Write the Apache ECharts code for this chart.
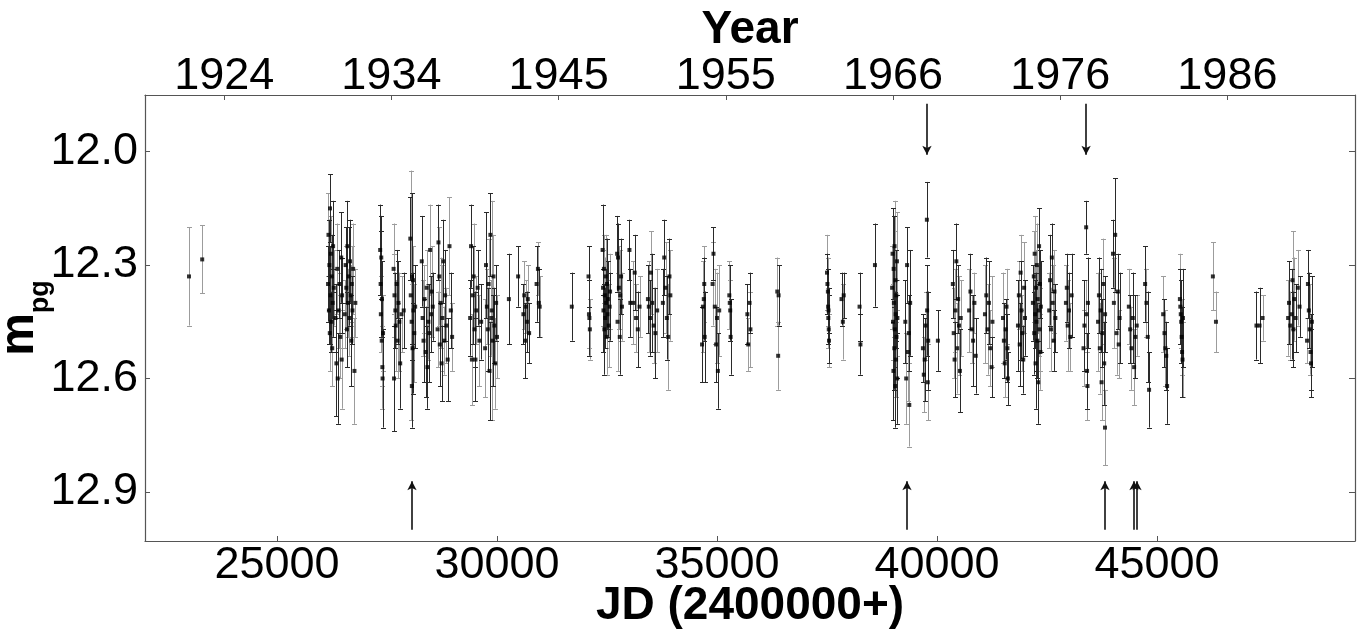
<!DOCTYPE html>
<html>
<head>
<meta charset="utf-8">
<script src="https://cdn.jsdelivr.net/npm/echarts@6/dist/echarts.min.js"></script>
<style>
html,body{margin:0;padding:0;background:#fff;}
#chart{width:1359px;height:635px;}
</style>
</head>
<body>
<div id="chart"></div>
<script>
// ---- Data (JD - 2400000, m_pg, error, tone 0=dark bar / 1=light bar) ----
const obs = [
[23000,12.33,0.13,1],[23300,12.285,0.09,1],
// 1930 season
[26160,12.35,0.10,0],[26170,12.22,0.11,1],[26180,12.42,0.09,0],[26190,12.30,0.12,0],[26200,12.48,0.10,1],
[26205,12.15,0.09,0],[26215,12.38,0.13,0],[26225,12.27,0.10,1],[26235,12.45,0.08,0],[26245,12.33,0.11,0],
[26255,12.52,0.10,1],[26265,12.40,0.09,0],[26275,12.25,0.12,0],[26290,12.36,0.10,1],[26330,12.44,0.09,0],
[26350,12.56,0.14,0],[26370,12.31,0.12,1],[26380,12.60,0.12,0],[26400,12.42,0.10,1],[26420,12.35,0.09,0],
[26440,12.49,0.11,1],[26460,12.28,0.12,0],[26470,12.55,0.13,1],[26480,12.38,0.10,0],[26540,12.43,0.09,1],
[26560,12.30,0.10,0],[26575,12.36,0.11,1],[26590,12.47,0.10,0],[26600,12.25,0.12,0],[26615,12.40,0.09,1],
[26630,12.33,0.13,0],[26645,12.44,0.10,1],[26660,12.29,0.11,0],[26675,12.38,0.08,1],[26690,12.50,0.12,0],
[26700,12.35,0.10,1],[26715,12.42,0.09,0],[26730,12.31,0.12,1],[26760,12.58,0.14,1],[26780,12.40,0.09,1],
// 1933-1935
[27345,12.26,0.12,0],[27355,12.35,0.14,0],[27360,12.43,0.10,1],[27370,12.28,0.11,0],[27380,12.50,0.12,1],
[27385,12.39,0.10,0],[27395,12.57,0.11,1],[27400,12.60,0.13,0],[27410,12.48,0.10,1],
[27650,12.31,0.12,1],[27660,12.60,0.14,0],[27670,12.38,0.11,1],[27690,12.42,0.10,0],[27700,12.46,0.12,1],
[27720,12.35,0.09,0],[27740,12.50,0.10,1],[27760,12.40,0.11,0],[27780,12.45,0.13,1],[27800,12.56,0.12,0],
[27830,12.43,0.10,1],[27880,12.42,0.10,0],
[28030,12.23,0.11,0],[28040,12.38,0.33,1],[28065,12.62,0.11,0],[28060,12.45,0.10,1],[28080,12.52,0.12,0],
[28090,12.34,0.09,1],[28100,12.42,0.10,0],[28120,12.48,0.13,1],[28140,12.41,0.11,0],[28070,12.33,0.22,0],
[28290,12.29,0.12,0],[28310,12.44,0.10,1],[28330,12.50,0.11,0],[28350,12.39,0.09,1],[28380,12.53,0.12,0],
[28400,12.36,0.10,1],[28420,12.57,0.11,0],[28440,12.45,0.10,1],[28460,12.48,0.13,0],[28480,12.26,0.12,1],
[28500,12.43,0.10,0],[28520,12.37,0.12,1],[28540,12.41,0.09,0],
[28650,12.47,0.10,1],[28670,12.24,0.10,0],[28690,12.33,0.13,1],[28700,12.51,0.11,0],[28720,12.40,0.12,1],
[28740,12.56,0.10,0],[28760,12.44,0.14,1],[28780,12.29,0.11,0],[28800,12.50,0.09,1],[28820,12.38,0.12,0],
[28850,12.46,0.10,1],[28880,12.55,0.11,0],[28920,12.25,0.13,1],[28950,12.42,0.10,0],[28980,12.49,0.09,1],
// 1939-1940
[29390,12.44,0.10,0],[29410,12.25,0.11,0],[29430,12.55,0.12,1],[29450,12.38,0.13,0],[29470,12.33,0.14,1],
[29490,12.47,0.10,0],[29510,12.55,0.11,0],[29530,12.42,0.09,1],[29560,12.36,0.10,0],[29600,12.50,0.12,1],
[29640,12.45,0.10,0],
[29730,12.52,0.13,1],[29750,12.30,0.14,0],[29770,12.41,0.10,1],[29790,12.47,0.11,0],[29810,12.35,0.12,1],
[29830,12.58,0.13,0],[29850,12.22,0.11,0],[29870,12.44,0.10,1],[29880,12.42,0.29,1],[29900,12.50,0.12,0],
[29920,12.33,0.11,1],[29940,12.46,0.10,0],[29960,12.56,0.12,1],[29980,12.40,0.10,0],[30000,12.49,0.11,1],
[30270,12.39,0.12,0],[30480,12.33,0.08,0],
[30600,12.43,0.08,0],[30620,12.38,0.09,1],[30640,12.50,0.10,0],[30660,12.41,0.07,1],[30680,12.45,0.08,0],
[30700,12.39,0.09,1],[30730,12.48,0.08,0],
[30900,12.35,0.10,0],[30930,12.31,0.07,1],[30950,12.40,0.09,0],[30970,12.41,0.08,1],
// 1945-1950
[31700,12.41,0.09,0],
[32080,12.33,0.08,0],[32090,12.43,0.09,1],[32100,12.44,0.10,0],[32110,12.47,0.08,1],
[32400,12.26,0.12,0],[32410,12.36,0.10,1],[32420,12.42,0.11,0],[32430,12.31,0.09,1],[32440,12.47,0.12,0],
[32450,12.38,0.10,1],[32460,12.44,0.08,0],[32470,12.33,0.11,1],[32480,12.40,0.09,0],[32490,12.49,0.10,1],
[32500,12.35,0.12,0],[32510,12.43,0.09,1],[32520,12.39,0.10,0],[32540,12.46,0.11,1],[32560,12.41,0.09,0],
[32570,12.37,0.10,1],
[32730,12.27,0.10,0],[32740,12.45,0.13,1],[32750,12.28,0.09,0],[32770,12.36,0.11,1],[32790,12.49,0.10,0],
[32800,12.38,0.12,1],[32820,12.33,0.10,0],[32840,12.41,0.09,1],
[33010,12.26,0.08,0],[33030,12.40,0.09,0],
[33100,12.40,0.11,1],[33130,12.32,0.10,0],[33160,12.44,0.09,1],[33200,12.47,0.10,0],[33240,12.41,0.08,1],
[33430,12.39,0.09,0],[33450,12.41,0.12,1],[33480,12.44,0.10,0],[33500,12.32,0.11,1],[33530,12.40,0.13,0],
[33560,12.46,0.10,1],[33600,12.48,0.12,0],[33640,12.42,0.11,1],
[33770,12.40,0.09,0],[33800,12.28,0.10,0],[33830,12.36,0.12,1],[33860,12.44,0.11,0],[33890,12.49,0.14,1],
[33920,12.33,0.10,0],[33940,12.38,0.12,1],
[34660,12.51,0.10,0],[34680,12.41,0.12,1],[34700,12.39,0.11,0],[34710,12.35,0.10,1],[34720,12.49,0.12,0],
[34900,12.35,0.11,1],[34920,12.27,0.07,0],[34950,12.41,0.10,1],[34980,12.51,0.10,0],[35000,12.44,0.12,1],
[35020,12.58,0.10,0],[35050,12.42,0.12,1],
[35280,12.38,0.09,1],[35290,12.40,0.10,0],[35300,12.42,0.08,1],[35310,12.49,0.10,0],
[35690,12.43,0.08,0],[35710,12.51,0.07,1],[35740,12.40,0.08,0],[35760,12.47,0.10,1],
[36370,12.37,0.09,1],[36390,12.54,0.09,1],[36400,12.38,0.08,0],
// 1961-1966
[37500,12.32,0.10,1],[37510,12.35,0.08,0],[37520,12.37,0.09,1],[37525,12.41,0.10,0],[37530,12.44,0.08,1],
[37540,12.47,0.09,0],[37545,12.50,0.07,1],[37535,12.42,0.06,0],
[37830,12.39,0.07,0],[37860,12.45,0.10,1],[37880,12.38,0.06,0],
[38240,12.41,0.09,0],[38260,12.51,0.08,0],
[38590,12.30,0.11,0],
[38980,12.36,0.11,1],[38990,12.27,0.12,0],[39000,12.45,0.10,1],[39010,12.58,0.13,0],[39015,12.31,0.14,0],
[39020,12.40,0.09,1],[39030,12.52,0.11,0],[39035,12.25,0.12,1],[39040,12.47,0.10,0],[39050,12.62,0.11,0],
[39055,12.34,0.13,1],[39060,12.43,0.09,0],[39070,12.55,0.10,1],[39075,12.38,0.12,0],[39080,12.49,0.11,0],
[39090,12.29,0.13,1],[39095,12.60,0.12,0],[39100,12.44,0.10,1],
[39280,12.45,0.11,0],[39300,12.60,0.12,1],[39320,12.30,0.10,0],[39340,12.53,0.13,1],[39360,12.48,0.10,0],
[39370,12.67,0.11,1],[39390,12.40,0.14,0],
[39680,12.52,0.09,0],[39700,12.59,0.10,1],[39720,12.55,0.11,0],[39740,12.46,0.09,1],[39770,12.18,0.10,0],
[39775,12.42,0.12,0],[39790,12.61,0.10,1],[39800,12.50,0.13,0],
[40020,12.50,0.08,0],
[40360,12.35,0.09,0],[40380,12.48,0.12,1],[40400,12.55,0.10,0],[40420,12.42,0.11,1],[40440,12.29,0.10,0],
[40460,12.52,0.12,1],[40480,12.39,0.09,0],[40500,12.46,0.13,1],[40520,12.58,0.11,0],[40540,12.44,0.10,1],
[40730,12.42,0.11,1],[40760,12.37,0.10,0],[40790,12.47,0.09,1],[40820,12.50,0.12,0],[40850,12.40,0.08,1],
[40880,12.54,0.10,0],
[41090,12.43,0.13,1],[41120,12.38,0.10,0],[41150,12.47,0.12,1],[41180,12.40,0.11,0],[41210,12.52,0.10,1],
[41240,12.57,0.08,0],[41260,12.45,0.12,1],
// 1972-1977
[41500,12.44,0.12,1],[41520,12.50,0.10,0],[41540,12.56,0.09,1],[41560,12.47,0.08,0],[41580,12.41,0.10,1],
[41600,12.52,0.09,0],[41610,12.60,0.07,0],
[41840,12.46,0.12,0],[41860,12.38,0.09,1],[41880,12.51,0.11,0],[41900,12.32,0.10,1],[41920,12.42,0.13,0],
[41940,12.48,0.10,1],[41960,12.55,0.09,0],[41980,12.36,0.12,1],[42000,12.44,0.10,0],
[42180,12.40,0.10,0],[42200,12.33,0.12,1],[42210,12.48,0.11,0],[42220,12.27,0.10,1],[42230,12.43,0.09,0],
[42240,12.56,0.12,0],[42250,12.36,0.10,1],[42260,12.45,0.13,0],[42270,12.30,0.11,1],[42280,12.50,0.10,0],
[42290,12.39,0.09,1],[42300,12.61,0.11,0],[42310,12.42,0.12,1],[42320,12.25,0.10,0],[42330,12.47,0.11,1],
[42340,12.35,0.09,0],[42350,12.53,0.10,1],[42360,12.41,0.12,0],
[42550,12.42,0.10,1],[42570,12.34,0.12,0],[42590,12.47,0.11,1],[42610,12.28,0.09,0],[42630,12.40,0.10,1],
[42650,12.50,0.08,0],[42670,12.37,0.11,1],[42690,12.44,0.09,0],
[42930,12.40,0.10,1],[42950,12.36,0.09,0],[42970,12.46,0.12,1],[43000,12.42,0.10,0],[43030,12.49,0.09,1],
[43060,12.38,0.11,0],
[43330,12.52,0.10,1],[43350,12.46,0.12,0],[43390,12.20,0.07,0],[43395,12.43,0.09,1],[43410,12.58,0.10,0],
[43420,12.62,0.09,1],[43430,12.40,0.12,0],
[43660,12.45,0.13,1],[43680,12.38,0.10,0],[43700,12.52,0.12,1],[43720,12.42,0.11,0],[43740,12.61,0.10,1],
[43760,12.48,0.09,0],[43780,12.35,0.12,1],[43818,12.73,0.10,1],[43800,12.56,0.11,0],[43820,12.43,0.10,0],
[44000,12.27,0.09,0],[44020,12.40,0.12,1],[44050,12.22,0.15,0],[44080,12.48,0.11,1],[44110,12.37,0.10,0],
[44130,12.51,0.09,1],[44150,12.44,0.12,0],
[44360,12.41,0.10,1],[44390,12.47,0.09,0],[44420,12.52,0.11,1],[44450,12.44,0.12,0],[44480,12.57,0.10,1],
[44510,12.49,0.11,0],[44540,12.46,0.08,1],
[44730,12.35,0.10,0],[44760,12.40,0.09,1],[44790,12.49,0.12,0],[44820,12.63,0.10,0],
[45140,12.43,0.10,1],[45170,12.48,0.09,0],[45190,12.52,0.10,1],[45210,12.54,0.09,0],[45230,12.62,0.10,0],
// 1983-1991
[45520,12.39,0.12,1],[45530,12.41,0.10,0],[45540,12.43,0.09,1],[45550,12.45,0.11,0],[45560,12.49,0.10,1],
[45570,12.53,0.12,0],[45580,12.55,0.10,1],[45590,12.44,0.13,0],
[46270,12.33,0.09,1],[46340,12.45,0.08,1],
[47260,12.46,0.09,0],[47330,12.46,0.10,0],[47400,12.44,0.06,1],
[47980,12.44,0.10,1],[48000,12.40,0.11,0],[48030,12.46,0.09,1],[48060,12.43,0.12,0],[48080,12.34,0.13,1],
[48100,12.47,0.10,0],[48120,12.39,0.11,1],[48150,12.44,0.09,0],[48200,12.36,0.10,1],[48240,12.41,0.08,0],
[48410,12.50,0.06,1],[48430,12.35,0.09,0],[48450,12.42,0.10,0],[48470,12.47,0.12,1],[48490,12.53,0.10,0],
[48500,12.56,0.09,0],[48520,12.45,0.12,0]
];
const jdTicks = [25000, 30000, 35000, 40000, 45000];
const magTicks = [12.0, 12.3, 12.6, 12.9];
const yearTickJD = [23800, 27600, 31400, 35200, 39000, 42800, 46600];
const yearLabels = ['1924', '1934', '1945', '1955', '1966', '1976', '1986'];
const upArrowJD = [28068, 39318, 43818, 44477, 44545];
const downArrowJD = [39772, 43388];
const upArrowMag = [13.0, 12.872];
const downArrowMag = [11.873, 12.008];

// ---- Chart ----
const FONT = '"Liberation Sans", Arial, Helvetica, sans-serif';
const AXIS_COLOR = '#555';
const chart = echarts.init(document.getElementById('chart'), null, {renderer: 'canvas'});

function barRenderer(color) {
  return function (params, api) {
    const x = api.value(0), m = api.value(1), e = api.value(2);
    const t = api.coord([x, m - e]);
    const b = api.coord([x, m + e]);
    const px = Math.round(t[0]) + 0.5;
    const cw = 2.5;
    const st = {stroke: color, lineWidth: 1};
    return {
      type: 'group',
      children: [
        {type: 'line', shape: {x1: px, y1: t[1], x2: px, y2: b[1]}, style: st},
        {type: 'line', shape: {x1: px - cw, y1: Math.round(t[1]) + 0.5, x2: px + cw, y2: Math.round(t[1]) + 0.5}, style: st},
        {type: 'line', shape: {x1: px - cw, y1: Math.round(b[1]) + 0.5, x2: px + cw, y2: Math.round(b[1]) + 0.5}, style: st}
      ]
    };
  };
}

const lightObs = obs.filter(o => o[3] === 1).map(o => [o[0], o[1], o[2]]);
const darkObs = obs.filter(o => o[3] === 0).map(o => [o[0], o[1], o[2]]);

const arrowLines = [];
upArrowJD.forEach(j => arrowLines.push([{coord: [j, upArrowMag[0]]}, {coord: [j, upArrowMag[1]]}]));
downArrowJD.forEach(j => arrowLines.push([{coord: [j, downArrowMag[0]]}, {coord: [j, downArrowMag[1]]}]));

const labelStyle = {color: '#000', fontFamily: FONT, fontSize: 45};
const nameStyle = {color: '#000', fontFamily: FONT, fontSize: 46, fontWeight: 'bold'};

const option = {
  animation: false,
  backgroundColor: '#fff',
  grid: {left: 145, right: 4, top: 95, bottom: 94, containLabel: false, outerBoundsMode: 'none'},
  xAxis: [
    {
      type: 'value', position: 'bottom', min: 22000, max: 49500,
      axisLine: {show: true, onZero: false, lineStyle: {color: AXIS_COLOR, width: 1.2}},
      axisTick: {show: true, inside: true, length: 5, customValues: jdTicks, lineStyle: {color: AXIS_COLOR}},
      axisLabel: {show: true, customValues: jdTicks, margin: 2, ...labelStyle, formatter: v => String(v)},
      splitLine: {show: false},
      name: 'JD (2400000+)', nameLocation: 'middle', nameGap: 42, nameMoveOverlap: false, nameTextStyle: nameStyle
    },
    {
      type: 'value', position: 'top', min: 22000, max: 49500,
      axisLine: {show: true, onZero: false, lineStyle: {color: AXIS_COLOR, width: 1.2}},
      axisTick: {show: true, inside: true, length: 5, customValues: yearTickJD, lineStyle: {color: AXIS_COLOR}},
      axisLabel: {show: true, customValues: yearTickJD, margin: -4, ...labelStyle,
        formatter: v => { const i = yearTickJD.indexOf(v); return i >= 0 ? yearLabels[i] : ''; }},
      splitLine: {show: false},
      name: 'Year', nameLocation: 'middle', nameGap: 42, nameMoveOverlap: false, nameTextStyle: nameStyle
    }
  ],
  yAxis: [
    {
      type: 'value', position: 'left', inverse: true, min: 11.85, max: 13.03,
      axisLine: {show: true, onZero: false, lineStyle: {color: AXIS_COLOR, width: 1.2}},
      axisTick: {show: true, inside: true, length: 5, customValues: magTicks, lineStyle: {color: AXIS_COLOR}},
      axisLabel: {show: true, customValues: magTicks, margin: 7, ...labelStyle, formatter: v => v.toFixed(1)},
      splitLine: {show: false},
      name: '{m|m}{s|pg}', nameLocation: 'middle', nameGap: 91, nameRotate: 90, nameMoveOverlap: false,
      nameTextStyle: {
        rich: {
          m: {fontFamily: FONT, fontSize: 48, fontWeight: 'bold', color: '#000', verticalAlign: 'bottom', padding: [0, 0, 10, 0]},
          s: {fontFamily: FONT, fontSize: 27, fontWeight: 'bold', color: '#000', verticalAlign: 'bottom'}
        }
      }
    },
    {
      type: 'value', position: 'right', inverse: true, min: 11.85, max: 13.03,
      axisLine: {show: true, onZero: false, lineStyle: {color: AXIS_COLOR, width: 1.2}},
      axisTick: {show: true, inside: true, length: 6, customValues: magTicks, lineStyle: {color: AXIS_COLOR}},
      axisLabel: {show: false},
      splitLine: {show: false}
    }
  ],
  series: [
    {
      type: 'custom', name: 'err-light', xAxisIndex: 0, yAxisIndex: 0, clip: true,
      renderItem: barRenderer('#9c9c9c'), data: lightObs, encode: {x: 0, y: 1}, z: 2, silent: true
    },
    {
      type: 'custom', name: 'err-dark', xAxisIndex: 0, yAxisIndex: 0, clip: true,
      renderItem: barRenderer('#2a2a2a'), data: darkObs, encode: {x: 0, y: 1}, z: 3, silent: true
    },
    {
      type: 'scatter', name: 'mpg', xAxisIndex: 0, yAxisIndex: 0,
      data: obs.map(o => [o[0], o[1]]), symbol: 'rect', symbolSize: 4,
      itemStyle: {color: '#000'}, z: 4, silent: true,
      markLine: {
        silent: true, animation: false,
        symbol: ['none', 'arrow'], symbolSize: [7, 9],
        lineStyle: {color: '#111', width: 1.6, type: 'solid'},
        label: {show: false},
        emphasis: {disabled: true},
        data: arrowLines
      }
    }
  ]
};
chart.setOption(option);
</script>
</body>
</html>
